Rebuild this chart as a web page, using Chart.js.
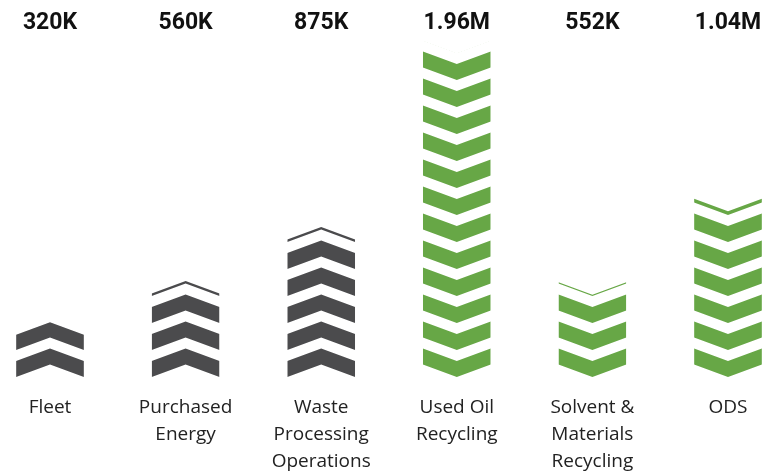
<!DOCTYPE html>
<html>
<head>
<meta charset="utf-8">
<script src="https://cdn.jsdelivr.net/npm/chart.js@4/dist/chart.umd.min.js"></script>
<style>
  html, body { margin: 0; padding: 0; background: #ffffff; overflow: hidden; }
  canvas { display: block; }
</style>
</head>
<body>
<canvas id="chart" width="766" height="474"></canvas>
<script>
// Sources of greenhouse gas: emitted (grey, pointing up) vs avoided (green, pointing down)
const categories = [
  ['Fleet'],
  ['Purchased', 'Energy'],
  ['Waste', 'Processing', 'Operations'],
  ['Used Oil', 'Recycling'],
  ['Solvent &', 'Materials', 'Recycling'],
  ['ODS']
];
const valuesK = [320, 560, 875, 1960, 552, 1040];
const valueLabels = ['320K', '560K', '875K', '1.96M', '552K', '1.04M'];
const flow = ['emitted', 'emitted', 'emitted', 'avoided', 'avoided', 'avoided'];

const GREY = '#4b4b4d';
const GREEN = '#67a746';
const RISE = 12.5;    // vertical drop from apex to side of a chevron
const THICK = 16;     // band thickness of a chevron
const PERIOD = 27;    // spacing between stacked chevrons

// Fills each bar with a stack of chevrons, cut at the top along the chevron slope
const chevronStack = {
  id: 'chevronStack',
  afterDatasetsDraw(chart) {
    const ctx = chart.ctx;
    const meta = chart.getDatasetMeta(0);
    meta.data.forEach((bar, i) => {
      const { x, y, base, width } = bar.getProps(['x', 'y', 'base', 'width'], true);
      const x0 = x - width / 2, x1 = x + width / 2;
      const up = flow[i] === 'emitted';
      ctx.save();
      ctx.beginPath();
      if (up) {
        ctx.moveTo(x0, base); ctx.lineTo(x0, y + RISE); ctx.lineTo(x, y);
        ctx.lineTo(x1, y + RISE); ctx.lineTo(x1, base);
      } else {
        ctx.moveTo(x0, base); ctx.lineTo(x0, y); ctx.lineTo(x, y + RISE);
        ctx.lineTo(x1, y); ctx.lineTo(x1, base);
      }
      ctx.closePath();
      ctx.clip();
      ctx.fillStyle = up ? GREY : GREEN;
      for (let k = 0; ; k++) {
        const low = base - k * PERIOD;
        if (low < y - 1) break;
        ctx.beginPath();
        if (up) {
          const sb = low, st = low - THICK, at = st - RISE, ab = sb - RISE;
          ctx.moveTo(x0, sb); ctx.lineTo(x0, st); ctx.lineTo(x, at);
          ctx.lineTo(x1, st); ctx.lineTo(x1, sb); ctx.lineTo(x, ab);
        } else {
          const ab = low, at = low - THICK, sb = ab - RISE, st = at - RISE;
          ctx.moveTo(x0, st); ctx.lineTo(x, at); ctx.lineTo(x1, st);
          ctx.lineTo(x1, sb); ctx.lineTo(x, ab); ctx.lineTo(x0, sb);
        }
        ctx.closePath();
        ctx.fill();
      }
      ctx.restore();
    });
  }
};

new Chart(document.getElementById('chart'), {
  type: 'bar',
  data: {
    labels: categories,
    datasets: [{
      data: valuesK,
      backgroundColor: 'rgba(0,0,0,0)',
      borderWidth: 0,
      categoryPercentage: 1,
      barPercentage: 0.5,
      clip: false
    }]
  },
  options: {
    responsive: false,
    animation: false,
    devicePixelRatio: 1,
    layout: { padding: { left: 50, right: 38, top: -3, bottom: 0 } },
    plugins: { legend: { display: false }, tooltip: { enabled: false } },
    scales: {
      x: {
        type: 'category',
        position: 'bottom',
        offset: false,
        grid: { display: false, drawTicks: false },
        border: { display: false },
        ticks: {
          color: '#222222',
          padding: 17,
          maxRotation: 0,
          autoSkip: false,
          font: { family: "'Open Sans', sans-serif", size: 19, lineHeight: 1.42 }
        },
        afterFit(scale) { scale.height = 97; }
      },
      x2: {
        type: 'category',
        position: 'top',
        labels: valueLabels,
        offset: false,
        grid: { display: false, drawTicks: false },
        border: { display: false },
        ticks: {
          color: '#111111',
          padding: 4,
          maxRotation: 0,
          autoSkip: false,
          font: { family: "Roboto, 'DejaVu Sans Condensed', sans-serif", size: 23, weight: 'bold', lineHeight: 1.2 }
        },
        afterFit(scale) { scale.height = 44; }
      },
      y: {
        display: false,
        min: 0,
        max: 1960,
        grid: { display: false }
      }
    }
  },
  plugins: [chevronStack]
});
</script>
</body>
</html>
